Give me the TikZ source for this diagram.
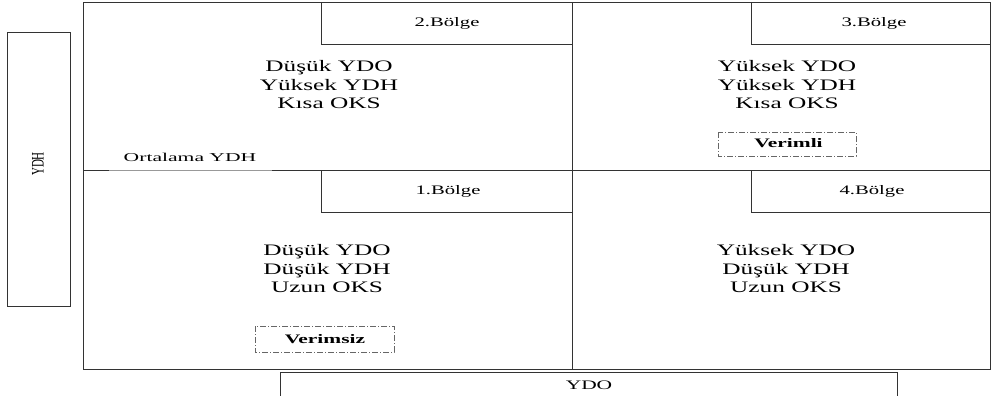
\documentclass[tikz,border=0pt]{standalone}
\usepackage{fontspec}
\setmainfont{Liberation Serif}
\usepackage{graphicx}
\newcommand\wide[3]{\scalebox{#1}[1]{\fontsize{#2}{#2}\selectfont #3}}
\tikzset{
  frame/.style={draw=black!80, line width=1pt},
  greyline/.style={draw=black!40, line width=0.8pt},
  tagbox/.style={draw=black!60, dash pattern=on 6pt off 2pt on 1pt off 2pt, line width=1pt},
  lbl/.style={inner sep=0pt, anchor=base},
}
\begin{document}
\begin{tikzpicture}[x=1pt,y=-1pt]
\useasboundingbox (0,0) rectangle (991,396);
% main frame
\draw[frame] (83,3) rectangle (990,369);
\draw[frame] (572,3) -- (572,369);
\draw[frame] (83,170) -- (109,170);
\draw[greyline] (109,170) -- (272,170);
\draw[frame] (272,170) -- (990,170);
% region tag boxes
\draw[frame] (321,3) rectangle (572,45);
\draw[frame] (751,3) rectangle (990,45);
\draw[frame] (321,170) rectangle (572,212);
\draw[frame] (751,170) rectangle (990,212);
% axis boxes
\draw[frame] (7,33) rectangle (70,306);
\draw[frame] (280,396) -- (280,372) -- (897,372) -- (897,396);
% tag labels
\node[lbl] (b2) at (447,27) {\wide{1.59}{13}{2.Bölge}};
\node[lbl] (b3) at (874,27) {\wide{1.59}{13}{3.Bölge}};
\node[lbl] (b1) at (448,194) {\wide{1.59}{13}{1.Bölge}};
\node[lbl] (b4) at (872,194) {\wide{1.59}{13}{4.Bölge}};
% region 2
\node[lbl] (r2a) at (329,71) {\wide{1.58}{16}{Düşük YDO}};
\node[lbl] (r2b) at (329,90) {\wide{1.58}{16}{Yüksek YDH}};
\node[lbl] (r2c) at (329,109) {\wide{1.58}{16}{Kısa OKS}};
% region 3
\node[lbl] (r3a) at (787,71) {\wide{1.58}{16}{Yüksek YDO}};
\node[lbl] (r3b) at (787,90) {\wide{1.58}{16}{Yüksek YDH}};
\node[lbl] (r3c) at (787,109) {\wide{1.58}{16}{Kısa OKS}};
% region 1
\node[lbl] (r1a) at (327,255) {\wide{1.58}{16}{Düşük YDO}};
\node[lbl] (r1b) at (327,274) {\wide{1.58}{16}{Düşük YDH}};
\node[lbl] (r1c) at (327,292) {\wide{1.58}{16}{Uzun OKS}};
% region 4
\node[lbl] (r4a) at (786,255) {\wide{1.58}{16}{Yüksek YDO}};
\node[lbl] (r4b) at (786,274) {\wide{1.58}{16}{Düşük YDH}};
\node[lbl] (r4c) at (786,292) {\wide{1.58}{16}{Uzun OKS}};
% ortalama
\node[lbl] (ort) at (190,161) {\wide{1.8}{12}{Ortalama YDH}};
% verimli / verimsiz
\draw[tagbox] (255,326) rectangle (394,352);
\node[lbl] (vs) at (325,343) {\wide{1.65}{13}{\bfseries Verimsiz}};
\draw[tagbox] (718,132) rectangle (856,156);
\node[lbl] (vl) at (788.5,147) {\wide{1.65}{13}{\bfseries Verimli}};
% axis labels
\node[inner sep=0pt] (ydh) at (38,164) {\scalebox{1.6}[1]{\rotatebox{90}{\fontsize{11}{12}\selectfont YDH}}};
\node[lbl] (ydo) at (589,389) {\wide{1.65}{13}{YDO}};
\end{tikzpicture}
\end{document}
